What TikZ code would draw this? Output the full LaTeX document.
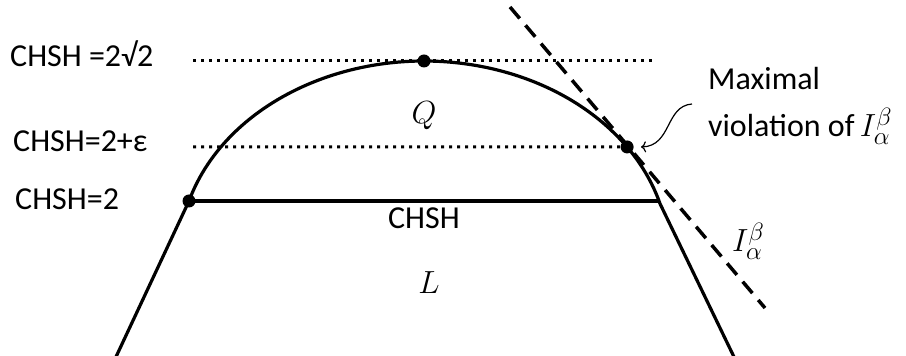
\RequirePackage{fix-cm}
\documentclass[tikz,border=0pt]{standalone}
\usepackage{fontspec}
\setmainfont{Carlito}
\DeclareMathSizes{32}{32}{25}{19}
\usetikzlibrary{arrows.meta}
\begin{document}
\begin{tikzpicture}[x=1pt,y=1pt,
  curve/.style={line width=3.2pt},
  chshline/.style={line width=4pt},
  dotline/.style={line width=3pt, dash pattern=on 3pt off 5pt},
  tangent/.style={line width=3.5pt, dash pattern=on 15pt off 9pt},
  dotmark/.style={circle, fill=black, inner sep=0pt, minimum size=13pt},
  lbl/.style={inner sep=0pt, anchor=base west, font=\fontsize{32}{38}\selectfont},
  clbl/.style={inner sep=0pt, anchor=base, font=\fontsize{32}{38}\selectfont},
  curvyarrow/.style={line width=1.2pt, -{To[length=5pt,width=11pt]}},
]
\useasboundingbox (0,0) rectangle (906,356);
% key points
\coordinate (A) at (189,155);
\coordinate (B) at (660,155);
\coordinate (T) at (424,295);
\coordinate (M) at ({424+245*cos(34)},{100+195*sin(34)});
\coordinate (BL) at (115,-3);
\coordinate (BR) at (735,-3);
\coordinate (D1s) at (193,295);
\coordinate (D1e) at (652,295);
\coordinate (D2s) at (193,209);
\coordinate (E1) at (510,349);
\coordinate (E2) at (765,48);
\coordinate (arrS) at (692,252);
\coordinate (arrE) at (641,209);
% boundary of the set
\draw[curve] (BL) -- (A) arc[start angle=163.6, end angle=15.6, x radius=245, y radius=195] -- (BR);
\draw[chshline] (A) -- (B);
% dotted levels
\draw[dotline] (D1s) -- (D1e);
\draw[dotline] (D2s) -- (M);
% tangent
\draw[tangent] (E1) -- (E2);
% dots
\node[dotmark] (dT) at (T) {};
\node[dotmark] (dA) at (A) {};
\node[dotmark] (dM) at (M) {};
% arrow
\draw[curvyarrow] (arrS) .. controls (665,250) and (672,210) .. (arrE);
% labels
\node[lbl] (t1) at (10,289) {CHSH =2√2};
\node[lbl] (t2) at (13,204.3) {CHSH=2+ε};
\node[lbl] (t3) at (15,146) {CHSH=2};
\node[clbl] (q) at (424,232) {$Q$};
\node[clbl] (chsh) at (424,127.7) {CHSH};
\node[clbl] (l) at (429,62.7) {$L$};
\node[lbl] (m1) at (708,266) {Maximal};
\node[lbl] (m2) at (708,219.3) {violation of\,$I_\alpha^\beta$};
\node[lbl] (ib) at (732,104.3) {$I_\alpha^\beta$};
\end{tikzpicture}
\end{document}
